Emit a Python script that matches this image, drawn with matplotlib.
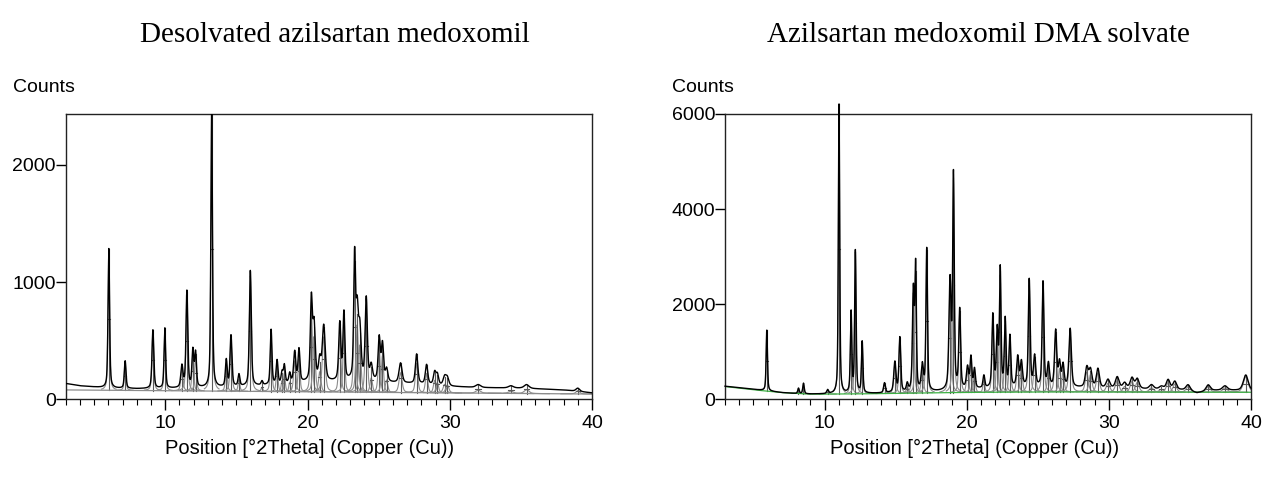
#!/usr/bin/env python3
"""
XRPD patterns: desolvated azilsartan medoxomil vs. the DMA solvate
"""
import numpy as np
import matplotlib
matplotlib.use('Agg')
import matplotlib.pyplot as plt
from matplotlib.ticker import MultipleLocator

# ---- Desolvated form: peak list (2theta, top counts, fwhm)
left_pos = [6.03, 7.18, 9.13, 9.97, 11.17, 11.52, 11.94, 12.13, 13.26, 14.29,
            14.62, 15.18, 15.98, 16.80, 17.44, 17.86, 18.21, 18.37, 18.75, 19.10,
            19.40, 20.27, 20.46, 20.86, 21.14, 22.27, 22.56, 23.31, 23.49, 23.68,
            24.13, 24.48, 25.04, 25.27, 25.56, 26.54, 27.67, 28.37, 28.94, 29.13,
            29.64, 29.83, 32.0, 34.3, 35.4, 39.0]
left_top = [1286, 326, 590, 605, 278, 917, 405, 386, 2500, 329,
            539, 207, 1096, 150, 590, 326, 221, 283, 215, 400,
            420, 831, 618, 320, 618, 641, 726, 1180, 732, 562,
            852, 278, 516, 462, 250, 306, 383, 292, 227, 207,
            187, 179, 125, 115, 125, 95]
left_fwhm = [0.13, 0.14, 0.15, 0.13, 0.18, 0.15, 0.15, 0.15, 0.13, 0.15,
             0.16, 0.15, 0.16, 0.15, 0.14, 0.15, 0.15, 0.15, 0.15, 0.18,
             0.16, 0.17, 0.2, 0.2, 0.24, 0.18, 0.15, 0.15, 0.2, 0.2,
             0.18, 0.2, 0.18, 0.18, 0.2, 0.25, 0.2, 0.2, 0.2, 0.2,
             0.25, 0.25, 0.4, 0.4, 0.4, 0.3]
# measured background under the trace, and the fitted baseline
left_bg_x = [3, 4, 5, 6, 8, 10, 12, 14, 16, 18, 20, 22, 24, 26, 28, 30, 32, 35, 38, 40]
left_bg_y = [135, 115, 105, 95, 90, 92, 95, 100, 110, 125, 145, 150, 160, 140, 130, 110, 100, 95, 80, 55]
left_fit_x = [3, 40]
left_fit_y = [80, 45]

# ---- DMA solvate
right_pos = [5.94, 8.17, 8.52, 10.22, 11.02, 11.87, 12.17, 12.65, 14.22, 14.95,
             15.30, 15.82, 16.25, 16.41, 16.88, 17.19, 18.83, 19.07, 19.51, 20.06,
             20.30, 20.55, 21.21, 21.84, 22.15, 22.36, 22.71, 23.04, 23.59, 23.85,
             24.40, 24.78, 25.37, 25.75, 26.26, 26.53, 26.78, 27.28, 28.45, 28.71,
             29.23, 29.94, 30.59, 31.11, 31.63, 32.0, 33.0, 33.7, 34.17, 34.64,
             35.58, 36.99, 38.17, 39.63]
right_top = [1454, 230, 335, 190, 6200, 1804, 3100, 1196, 335, 769,
             1280, 300, 2250, 2700, 685, 3150, 2450, 4650, 1850, 650,
             860, 615, 480, 1750, 1400, 2700, 1650, 1300, 870, 760,
             2500, 880, 2450, 720, 1420, 740, 700, 1470, 650, 600,
             630, 405, 461, 335, 440, 420, 300, 265, 405, 370,
             300, 300, 279, 510]
right_fwhm = [0.11, 0.12, 0.12, 0.15, 0.11, 0.12, 0.12, 0.12, 0.15, 0.18,
              0.15, 0.15, 0.15, 0.12, 0.18, 0.13, 0.18, 0.13, 0.15, 0.18,
              0.15, 0.15, 0.15, 0.15, 0.15, 0.13, 0.14, 0.15, 0.18, 0.18,
              0.15, 0.18, 0.15, 0.18, 0.18, 0.18, 0.18, 0.2, 0.25, 0.25,
              0.25, 0.3, 0.3, 0.3, 0.3, 0.3, 0.35, 0.35, 0.3, 0.3,
              0.35, 0.35, 0.4, 0.4]
right_bg_x = [3, 4, 5, 6, 7, 8, 9, 10, 12, 14, 16, 18, 20, 22, 24, 26, 28, 30, 32, 34, 35.5, 36.2, 37, 38, 40]
right_bg_y = [275, 245, 210, 175, 140, 120, 110, 110, 115, 125, 140, 160, 200, 230, 245, 245, 240, 225, 215, 205, 190, 130, 180, 190, 180]
right_fit_x = [3, 5, 7, 9, 12, 16, 20, 25, 30, 35, 40]
right_fit_y = [268, 200, 140, 108, 112, 130, 145, 155, 155, 150, 148]


def profile(tth, pos, top, fwhm, bg_x, bg_y):
    """pseudo-Voigt peaks on top of the background"""
    bg = np.interp(tth, bg_x, bg_y)
    y = bg.copy()
    singles = []
    for p, t, w in zip(pos, top, fwhm):
        net = t - np.interp(p, bg_x, bg_y)
        g = np.exp(-4 * np.log(2) * ((tth - p) / w) ** 2)
        l = 1 / (1 + 4 * ((tth - p) / w) ** 2)
        shape = net * (0.5 * g + 0.5 * l)
        y += shape
        singles.append(shape)
    return y, singles


def draw_panel(ax, pos, top, fwhm, bg_x, bg_y, fit_x, fit_y, ymax, yticks,
               fit_color, title, title_x, xlabel_x, clip=True):
    tth = np.arange(3, 40.001, 0.01)
    trace, singles = profile(tth, pos, top, fwhm, bg_x, bg_y)
    fit_base = np.interp(tth, fit_x, fit_y)

    # fitted peak profiles + stick markers
    for p, t, w, s in zip(pos, top, fwhm, singles):
        m = np.abs(tth - p) < 4 * w
        ax.plot(tth[m], fit_base[m] + s[m], color='#8c8c8c', lw=0.8, zorder=2)
        base = np.interp(p, fit_x, fit_y)
        ax.plot([p, p], [base, t], color='#5a5a5a', lw=0.8, zorder=2,
                clip_on=clip)
        half = base + (t - base) / 2
        ax.plot([p - w / 2, p + w / 2], [half, half], color='#5a5a5a', lw=0.8, zorder=2)
    ax.plot(tth, fit_base, color=fit_color, lw=0.9, zorder=2)

    # measured trace
    ax.plot(tth, trace, color='black', lw=1.0, zorder=3, clip_on=clip)

    ax.set_xlim(3, 40)
    ax.set_ylim(0, ymax)
    ax.set_yticks(yticks)
    ax.set_xticks([10, 20, 30, 40])
    ax.xaxis.set_minor_locator(MultipleLocator(1))
    ax.tick_params(axis='x', which='major', direction='out', length=8, width=1, labelsize=14, pad=3)
    ax.tick_params(axis='x', which='minor', direction='out', length=4.5, width=0.8)
    ax.tick_params(axis='y', which='major', direction='out', length=7, width=1, labelsize=14, pad=0)
    for sp in ax.spines.values():
        sp.set_linewidth(1.0)
        sp.set_color('#222222')

    fig = ax.figure
    bb = ax.get_position()
    fig.text(title_x / 1265, 1 - 35 / 480, title, ha='center', va='center',
             family='Liberation Serif', fontsize=21)
    fig.text(bb.x0 - 53 / 1265, 1 - 88 / 480, 'Counts', ha='left', va='center', fontsize=14)
    fig.text(xlabel_x / 1265, 1 - 448 / 480, 'Position [°2Theta] (Copper (Cu))',
             ha='center', va='center', fontsize=14.5)


plt.rcParams['font.family'] = ['Liberation Sans', 'DejaVu Sans']
fig = plt.figure(figsize=(12.65, 4.8), dpi=100)
ax1 = fig.add_axes([65.7 / 1265, 1 - 399.3 / 480, 526.3 / 1265, 285.3 / 480])
ax2 = fig.add_axes([725 / 1265, 1 - 399.3 / 480, 526 / 1265, 285.3 / 480])

draw_panel(ax1, left_pos, left_top, left_fwhm, left_bg_x, left_bg_y,
           left_fit_x, left_fit_y, 2435, [0, 1000, 2000], '#8c8c8c',
           'Desolvated azilsartan medoxomil', 335, 310)
draw_panel(ax2, right_pos, right_top, right_fwhm, right_bg_x, right_bg_y,
           right_fit_x, right_fit_y, 6000, [0, 2000, 4000, 6000], '#3cb043',
           'Azilsartan medoxomil DMA solvate', 978, 975, clip=False)

fig.savefig('out.png', dpi=100)
